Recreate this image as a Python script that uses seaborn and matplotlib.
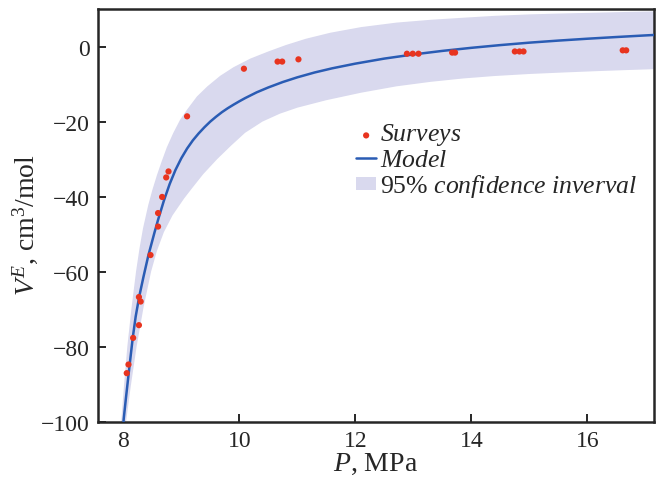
import numpy as np
import pandas as pd
import matplotlib
matplotlib.use("Agg")
import matplotlib.pyplot as plt
import seaborn as sns

# Measured excess molar volume
survey_p = [8.06, 8.09, 8.17, 8.27, 8.27, 8.30, 8.47, 8.60, 8.60, 8.67, 8.74, 8.78,
            9.10, 10.08, 10.66, 10.74, 11.02, 12.89, 12.99, 13.09, 13.67, 13.72,
            14.75, 14.83, 14.90, 16.61, 16.67]
survey_v = [-87.1, -84.8, -77.7, -74.3, -66.8, -68.0, -55.6, -48.0, -44.4, -40.1, -34.9, -33.3,
            -18.6, -5.9, -4.0, -4.0, -3.4, -1.9, -1.9, -1.9, -1.6, -1.6,
            -1.3, -1.3, -1.3, -1.0, -1.0]

# Model curve
model_p = [8.000, 8.007, 8.047, 8.086, 8.126, 8.164, 8.214, 8.276, 8.347, 8.434, 8.538,
           8.600, 8.700, 8.800, 8.900, 9.000, 9.100, 9.200, 9.300, 9.400, 9.500, 9.600,
           9.700, 9.800, 9.900, 10.00, 10.10, 10.30, 10.50, 10.75, 11.00, 11.30, 11.60,
           12.00, 12.50, 13.00, 13.50, 14.00, 14.50, 15.00, 15.50, 16.00, 16.50, 17.00,
           17.20]
model_v = [-101.0, -99.4, -93.6, -88.2, -82.7, -77.6, -72.0, -66.6, -61.5, -55.6, -49.6,
           -46.2, -41.1, -36.65, -32.9, -29.8, -27.2, -25.0, -23.15, -21.5, -20.0, -18.7,
           -17.5, -16.45, -15.5, -14.6, -13.75, -12.2, -10.9, -9.45, -8.2, -6.9, -5.8,
           -4.55, -3.2, -2.1, -1.15, -0.33, 0.4, 1.05, 1.6, 2.1, 2.55, 2.98,
           3.14]

# 95% confidence band edges
upper_p = [7.96, 8.015, 8.07, 8.14, 8.22, 8.28, 8.34, 8.43, 8.50, 8.58, 8.66, 8.75, 8.86,
           8.98, 9.10, 9.27, 9.45, 9.67, 9.90, 10.19, 10.5, 10.8, 11.15, 11.57, 12.1,
           12.71, 13.3, 13.86, 14.4, 15.01, 15.6, 16.16, 16.7, 17.2]
upper_v = [-101.0, -90.0, -80.0, -70.0, -60.0, -53.8, -48.5, -42.3, -38.3, -34.3, -30.7, -26.9, -23.1,
           -19.5, -16.8, -13.3, -10.6, -7.8, -5.5, -3.2, -1.3, 0.4, 2.1, 3.7, 5.2,
           6.4, 7.15, 7.7, 8.2, 8.6, 8.85, 9.05, 9.25, 9.4]
lower_p = [8.04, 8.13, 8.23, 8.35, 8.48, 8.58, 8.70, 8.85, 9.05, 9.20, 9.38, 9.62, 9.86,
           10.1, 10.4, 10.7, 11.0, 11.5, 12.1, 12.71, 13.3, 13.86, 14.4, 15.01, 15.6,
           16.16, 16.7, 17.2]
lower_v = [-101.0, -90.5, -80.0, -69.5, -60.0, -54.5, -49.5, -45.0, -40.5, -37.5, -34.0, -30.0, -26.4,
           -23.0, -20.0, -17.9, -16.3, -14.3, -12.3, -10.6, -9.4, -8.5, -7.85, -7.3, -6.9,
           -6.55, -6.25, -6.0]

x_ticks = [8, 10, 12, 14, 16]
y_ticks = [0, -20, -40, -60, -80, -100]

sns.set_style("ticks")
plt.rcParams.update({
    "font.family": ["Liberation Serif", "DejaVu Serif"],
    "mathtext.fontset": "custom",
    "mathtext.rm": "Liberation Serif",
    "mathtext.it": "Liberation Serif:italic",
    "mathtext.bf": "Liberation Serif:bold",
    "font.size": 17,
    "axes.linewidth": 1.8,
    "xtick.direction": "in",
    "ytick.direction": "in",
    "xtick.major.size": 6,
    "ytick.major.size": 6,
    "xtick.major.width": 1.4,
    "ytick.major.width": 1.4,
    "xtick.labelsize": 17,
    "ytick.labelsize": 17,
})

surveys = pd.DataFrame({"P": survey_p, "V": survey_v})
model = pd.DataFrame({"P": model_p, "V": model_v})

fig = plt.figure(figsize=(6.56, 4.81), dpi=100)
ax = fig.add_axes([0.149, 0.1216, 0.848, 0.8574])

band_x = list(upper_p) + list(reversed(lower_p))
band_y = list(upper_v) + list(reversed(lower_v))
ax.fill(band_x, band_y, color="#d9d9ee", linewidth=0, zorder=1,
        label="95% $\\it{confidence\\ inverval}$")

sns.lineplot(data=model, x="P", y="V", sort=False, estimator=None, ax=ax,
             color="#2a5cb4", linewidth=1.8, zorder=3, label="$\\it{Model}$")
sns.scatterplot(data=surveys, x="P", y="V", ax=ax, color="#e8341f", s=20,
                edgecolor="none", zorder=4, label="$\\it{Surveys}$")

ax.set_xlim(7.56, 17.15)
ax.set_ylim(-100, 10)
ax.set_xticks(x_ticks)
ax.set_yticks(y_ticks)
ax.set_yticklabels(["0", "\u221220", "\u221240", "\u221260", "\u221280", "\u2212100"])
ax.tick_params(top=False, right=False, pad=6)
for s in ax.spines.values():
    s.set_visible(True)

ax.set_xlabel("$P$, MPa", fontsize=20, labelpad=0)
ax.set_ylabel("$V^{E}$, cm$^{3}$/mol", fontsize=20)
ax.yaxis.set_label_coords(-0.104, 0.478)

handles, labels = ax.get_legend_handles_labels()
order = [labels.index(l) for l in ["$\\it{Surveys}$", "$\\it{Model}$",
                                    "95% $\\it{confidence\\ inverval}$"]]
ax.legend([handles[i] for i in order], [labels[i] for i in order],
          loc="upper left", bbox_to_anchor=(0.464, 0.728), frameon=False,
          fontsize=18.5, handlelength=0.8, handleheight=0.4, handletextpad=0.14,
          labelspacing=0.06, borderpad=0, borderaxespad=0)

fig.savefig("out.png", dpi=100)
